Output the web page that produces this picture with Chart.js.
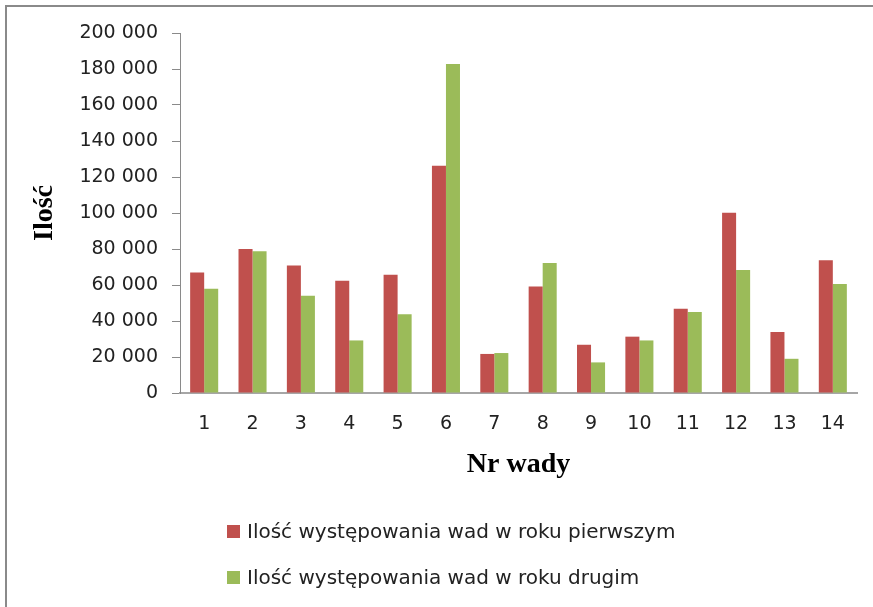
<!DOCTYPE html>
<html>
<head>
<meta charset="utf-8">
<script src="https://cdn.jsdelivr.net/npm/chart.js"></script>
<style>
  body { margin: 0; background: #fff; overflow: hidden; }
  #ramka { position: absolute; left: 5px; top: 5px; width: 900px; height: 700px;
           border-left: 2px solid #8a8a8a; border-top: 2px solid #8a8a8a; }
  #wrap { position: absolute; left: 0; top: 0; width: 873px; height: 607px; }
  #legenda { position: absolute; left: 227px; top: 508px; font-family: "DejaVu Sans"; font-size: 20px; color: #222; }
  .poz { display: flex; align-items: center; height: 46px; }
  .kw { width: 13px; height: 13px; margin-right: 7px; }
</style>
</head>
<body>
<div id="ramka"></div>
<div id="wrap"><canvas id="myChart"></canvas></div>
<div id="legenda"></div>
<script>
// DANE : ---------------------------------------------------------------
const kategorie = ['1', '2', '3', '4', '5', '6', '7', '8', '9', '10', '11', '12', '13', '14'];
const rokPierwszy = [67000, 80000, 70900, 62400, 65700, 126300, 21700, 59200, 26800, 31300, 46800, 100200, 33900, 73700];
const rokDrugi = [57900, 78700, 54000, 29200, 43700, 182800, 22200, 72200, 17000, 29200, 45000, 68300, 19000, 60600];
const nazwy = ['Ilość występowania wad w roku pierwszym', 'Ilość występowania wad w roku drugim'];

const ctx = document.getElementById('myChart');

// spacja jako separator tysięcy
function formatuj(v) {
  return String(v).replace(/\B(?=(\d{3})+(?!\d))/g, ' ');
}

const wykres = new Chart(ctx, {
  type: 'bar',
  data: {
    labels: kategorie,
    datasets: [
      { label: nazwy[0], data: rokPierwszy, backgroundColor: '#C0504D' },
      { label: nazwy[1], data: rokDrugi, backgroundColor: '#9BBB59' }
    ]
  },
  options: {
    responsive: true,
    maintainAspectRatio: false,
    animation: false,
    categoryPercentage: 0.58,
    barPercentage: 1,
    layout: { padding: { left: 0, top: 33, right: 16, bottom: 124 } },
    scales: {
      x: {
        grid: { display: false, drawTicks: false },
        border: { color: '#a6a6a6', width: 2 },
        ticks: { padding: 20, color: '#222', font: { family: 'DejaVu Sans', size: 19 } },
        title: { display: true, text: 'Nr wady', color: '#000', padding: { top: 0, bottom: 1 },
                 font: { family: 'Liberation Serif', size: 28, weight: 'bold' } },
        afterFit: (s) => { s.height = 90; }
      },
      y: {
        min: 0, max: 200000,
        grid: { drawOnChartArea: false, drawTicks: true, tickLength: 8, color: '#8a8a8a' },
        border: { color: '#8a8a8a', width: 1 },
        ticks: { stepSize: 20000, padding: 14, color: '#222', font: { family: 'DejaVu Sans', size: 19 },
                 callback: (v) => formatuj(v) },
        title: { display: true, text: 'Ilość', color: '#000', padding: { top: 28, bottom: 0 },
                 font: { family: 'Liberation Serif', size: 28, weight: 'bold' } },
        afterFit: (s) => { s.width = 180; }
      }
    },
    plugins: {
      legend: { display: false },
      tooltip: { enabled: false }
    }
  }
});

// legenda HTML (pionowa, wyrównana do lewej)
const leg = document.getElementById('legenda');
wykres.data.datasets.forEach(ds => {
  const p = document.createElement('div');
  p.className = 'poz';
  p.innerHTML = '<span class="kw" style="background:' + ds.backgroundColor + '"></span><span>' + ds.label + '</span>';
  leg.appendChild(p);
});
</script>
</body>
</html>
